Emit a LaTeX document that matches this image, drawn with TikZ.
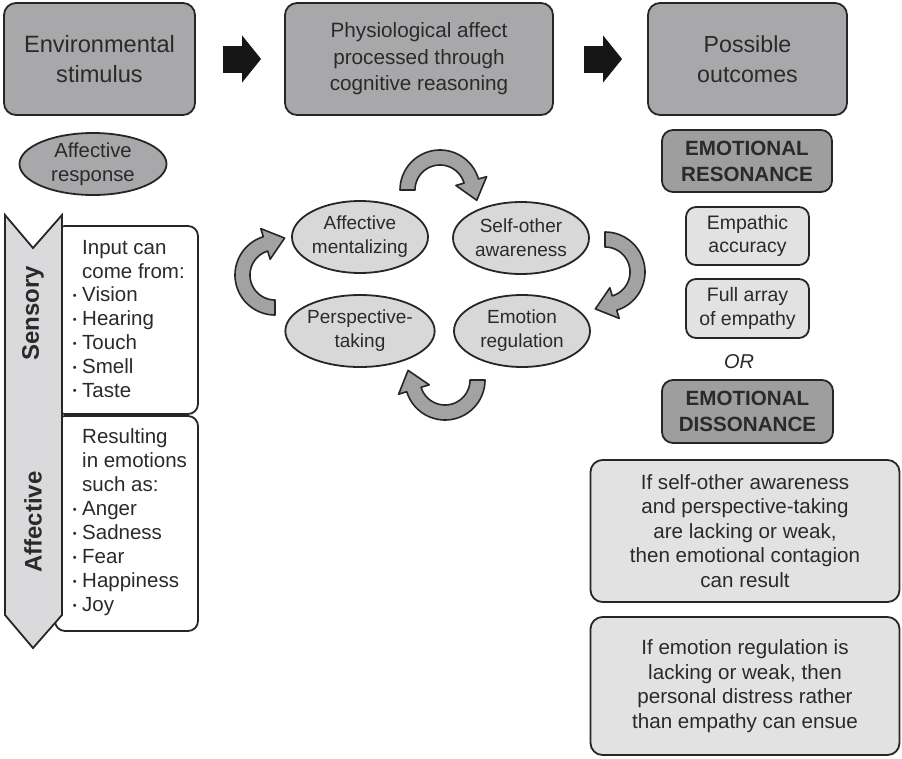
\documentclass[tikz,border=0pt]{standalone}
\usepackage{fontspec}
\setmainfont{Liberation Sans}
\usetikzlibrary{shapes.geometric, arrows.meta, calc}

\definecolor{ink}{HTML}{2A2A2A}
\definecolor{edge}{HTML}{262626}
\definecolor{topgray}{HTML}{A8A8AA}
\definecolor{darkgray}{HTML}{9E9E9E}
\definecolor{ovalgray}{HTML}{D8D8D8}
\definecolor{palegray}{HTML}{E2E2E2}
\definecolor{bandgray}{HTML}{DADADC}
\definecolor{cyclegray}{HTML}{A2A2A2}
\definecolor{blockblack}{HTML}{161616}

% small bullet hung to the left of a list line
\newcommand{\bul}{\llap{\raisebox{2.2pt}{\fontsize{11}{11}\selectfont •}\hspace{5.5pt}}}

% curved block arrow: centre (#1,#2), sweeping from angle #3 to #4
\newcommand{\cyclearrow}[4]{%
  \filldraw[cyc] plot[domain=#3:#4, samples=40] ({#1+40*cos(\x)},{#2+40*sin(\x)})
    -- ($(#1,#2)+(#4:48.5)$)
    -- ($(#1,#2)+(#4:32.5)+(#4+90:20)$)
    -- ($(#1,#2)+(#4:16.5)$)
    -- plot[domain=#4:#3, samples=40] ({#1+25*cos(\x)},{#2+25*sin(\x)})
    -- cycle;}

\begin{document}
\begin{tikzpicture}[x=1pt, y=-1pt,
  every node/.style={text=ink},
  topbox/.style={draw=edge, line width=1.8pt, rounded corners=12pt, fill=topgray,
    align=center, inner sep=0pt},
  darkbox/.style={draw=edge, line width=1.8pt, rounded corners=11pt, fill=darkgray,
    align=center, inner sep=0pt, font=\fontsize{20.6}{26}\selectfont\bfseries},
  lightbox/.style={draw=edge, line width=1.8pt, rounded corners=10pt, fill=palegray,
    align=center, inner sep=0pt, font=\fontsize{19.5}{23.5}\selectfont},
  notebox/.style={draw=edge, line width=1.8pt, rounded corners=12pt, fill=palegray,
    align=center, inner sep=0pt, font=\fontsize{20.6}{24.5}\selectfont},
  listbox/.style={draw=edge, line width=1.8pt, rounded corners=10pt, fill=white},
  oval/.style={ellipse, draw=edge, line width=1.8pt, fill=ovalgray, align=center,
    inner sep=0pt, minimum width=136pt, minimum height=72pt,
    font=\fontsize{19}{24}\selectfont},
  band/.style={draw=edge, line width=1.8pt, fill=bandgray},
  cyc/.style={draw=edge, line width=1.6pt, fill=cyclegray, line join=round},
  blockarrow/.style={draw=blockblack, line width=27pt,
    -{Triangle[width=46pt, length=19pt]}},
  ]
\useasboundingbox (0,0) rectangle (902,758);

% ---- top row of stages ----
\node[topbox, minimum width=191pt, minimum height=112pt,
  font=\fontsize{23.6}{30}\selectfont] (env) at (99.5,59) {Environmental\\stimulus};
\node[topbox, minimum width=268pt, minimum height=112pt,
  font=\fontsize{20.7}{26.5}\selectfont] (phys) at (419,59)
  {Physiological affect\\processed through\\cognitive reasoning};
\node[topbox, minimum width=199pt, minimum height=112pt,
  font=\fontsize{23.2}{30}\selectfont] (out) at (747.5,59) {Possible\\outcomes};

\draw[blockarrow, shorten <=27pt, shorten >=23pt] (env) -- (phys);
\draw[blockarrow, shorten <=30pt, shorten >=25pt] (phys) -- (out);

% ---- left column ----
\node[ellipse, draw=edge, line width=1.8pt, fill=topgray, align=center, inner sep=0pt,
  minimum width=147pt, minimum height=62pt, font=\fontsize{20.3}{24}\selectfont]
  (resp) at (93,164) {Affective\\response};

\node[listbox, minimum width=143pt, minimum height=188pt] (sensbox) at (126.5,320) {};
\node[listbox, minimum width=143pt, minimum height=215pt] (affbox) at (126.5,523.5) {};

\filldraw[band] (5,215) -- (33,248) -- (62,215) -- (62,615) -- (33,648) -- (5,615) -- cycle;

\node[rotate=90, font=\fontsize{24}{24}\selectfont\bfseries] (senslabel) at (33,313) {Sensory};
\node[rotate=90, font=\fontsize{24}{24}\selectfont\bfseries] (afflabel) at (33,522) {Affective};

\node[anchor=north west, align=left, inner sep=0pt, font=\fontsize{20.5}{23.8}\selectfont]
  (senstext) at (82,240)
  {Input can\\come from:\\\bul Vision\\\bul Hearing\\\bul Touch\\\bul Smell\\\bul Taste};
\node[anchor=north west, align=left, inner sep=0pt, font=\fontsize{20.5}{24.1}\selectfont]
  (afftext) at (82,428)
  {Resulting\\in emotions\\such as:\\\bul Anger\\\bul Sadness\\\bul Fear\\\bul Happiness\\\bul Joy};

% ---- processing cycle ----
\node[oval] (ment) at (360,237) {Affective\\mentalizing};
\node[oval] (self) at (521,238) {Self-other\\awareness};
\node[oval] (persp) at (360,331) {Perspective-\\taking};
\node[oval] (reg) at (522,331) {Emotion\\regulation};

\cyclearrow{440}{190}{180}{344}
\cyclearrow{605}{272}{270}{433}
\cyclearrow{445}{380}{0}{163}
\cyclearrow{275}{275}{90}{253}

% ---- outcomes ----
\node[darkbox, minimum width=170pt, minimum height=62pt] (res) at (747,161) {EMOTIONAL\\RESONANCE};
\node[lightbox, minimum width=123pt, minimum height=58pt] (acc) at (747.5,236) {Empathic\\accuracy};
\node[lightbox, minimum width=123pt, minimum height=59pt] (full) at (747.5,308.5) {Full array\\of empathy};
\node[font=\fontsize{20}{20}\selectfont\itshape] (or) at (739,362) {OR};
\node[darkbox, minimum width=171pt, minimum height=63pt] (dis) at (747.5,411.5) {EMOTIONAL\\DISSONANCE};
\node[notebox, minimum width=309pt, minimum height=142pt] (cont) at (745,531)
  {If self-other awareness\\and perspective-taking\\are lacking or weak,\\then emotional contagion\\can result};
\node[notebox, minimum width=309pt, minimum height=138pt] (dist) at (745,686)
  {If emotion regulation is\\lacking or weak, then\\personal distress rather\\than empathy can ensue};
\end{tikzpicture}
\end{document}
